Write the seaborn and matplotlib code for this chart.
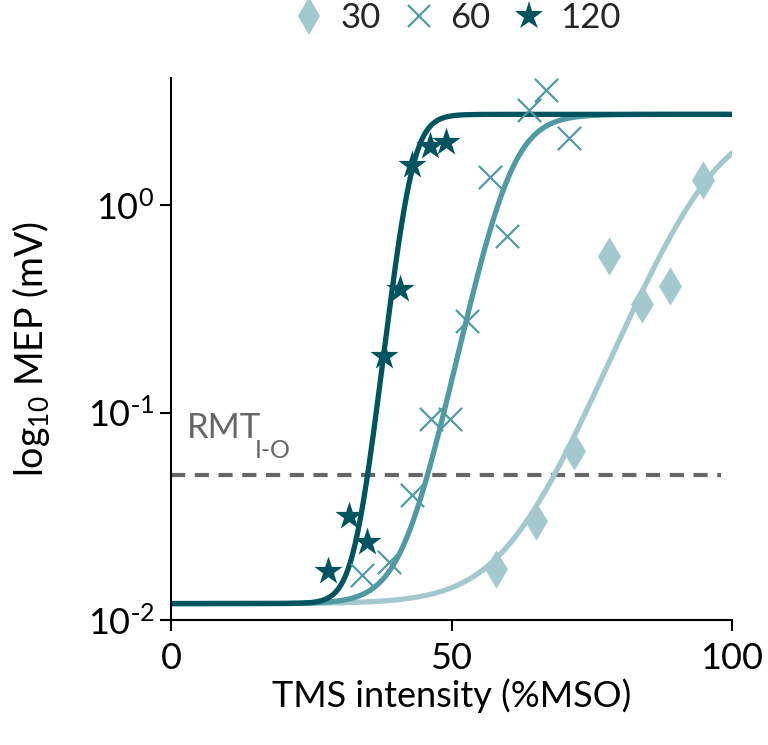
import numpy as np
import pandas as pd
import seaborn as sns
import matplotlib.pyplot as plt
from matplotlib.lines import Line2D

# MEP amplitudes (mV) per pulse duration
x_30 = [58.0, 65.0, 71.8, 78.0, 83.9, 89.0, 94.8]
y_30 = [0.0176, 0.030, 0.0655, 0.567, 0.332, 0.408, 1.32]
x_60 = [34.0, 38.8, 43.0, 46.3, 49.8, 52.7, 56.9, 59.9, 63.8, 66.8, 70.9]
y_60 = [0.0165, 0.019, 0.040, 0.0936, 0.0936, 0.276, 1.37, 0.711, 2.88, 3.61, 2.11]
x_120 = [27.9, 31.8, 35.0, 37.9, 40.8, 42.9, 46.1, 49.0]
y_120 = [0.0172, 0.0316, 0.0239, 0.187, 0.395, 1.57, 1.93, 2.01]

labels = ['30', '60', '120']
colors = ['#A3C9CE', '#4F9AA3', '#005460']

# Boltzmann fit per duration: baseline, plateau, midpoint, slope
fit_base = [0.012, 0.012, 0.012]
fit_top = [2.74, 2.74, 2.74]
fit_mid = [96.0, 60.2, 42.7]
fit_slope = [6.5, 3.4, 1.8]

rmt = 0.05


def boltzmann(x, base, top, mid, slope):
    return base + (top - base) / (1 + np.exp((mid - x) / slope))


def plot():
    sns.set_theme(style='ticks')
    plt.rcParams['font.family'] = ['Lato', 'DejaVu Sans']
    plt.rcParams['mathtext.default'] = 'regular'

    fig = plt.figure(figsize=(7.68, 7.45), dpi=100)
    ax = fig.add_axes([171 / 768, 1 - 620 / 745, 561 / 768, 542 / 745])

    # fitted curves
    xs = np.linspace(0, 100, 400)
    fits = pd.concat([
        pd.DataFrame({'x': xs,
                      'y': boltzmann(xs, fit_base[i], fit_top[i], fit_mid[i], fit_slope[i]),
                      'dur': labels[i]})
        for i in range(3)])
    sns.lineplot(data=fits, x='x', y='y', hue='dur', palette=dict(zip(labels, colors)),
                 linewidth=3.8, legend=False, ax=ax, zorder=2)

    # data points
    sns.scatterplot(x=x_30, y=y_30, marker='d', s=380, color=colors[0],
                    linewidth=0, ax=ax, zorder=3)
    sns.scatterplot(x=x_60, y=y_60, marker='x', s=280, color=colors[1],
                    linewidth=1.6, ax=ax, zorder=3)
    sns.scatterplot(x=x_120, y=y_120, marker='*', s=460, color=colors[2],
                    linewidth=0, ax=ax, zorder=4)

    # threshold line
    ax.plot([0, 98], [rmt, rmt], ls=(0, (3.4, 2.3)), color='#666666', lw=3, zorder=1)
    ax.text(2.8, 0.075, 'RMT', fontsize=25, color='#666666')
    ax.text(15.0, 0.0605, 'I-O', fontsize=18, color='#666666')

    ax.set_yscale('log')
    ax.set_xlim(0, 100)
    ax.set_ylim(0.01, 10 ** 0.613)
    ax.set_xticks([0, 50, 100])
    ax.set_xticklabels(['0', '50', '100'])
    ax.set_yticks([0.01, 0.1, 1])
    ax.set_yticklabels([r'$10^{\text{-}2}$', r'$10^{\text{-}1}$', r'$10^{0}$'])
    ax.minorticks_off()
    ax.tick_params(axis='both', which='major', direction='out', length=8, width=1.5,
                   color='black', labelsize=26, labelcolor='black', pad=8)
    ax.tick_params(axis='y', pad=4)
    for side in ['left', 'bottom']:
        ax.spines[side].set_color('black')
        ax.spines[side].set_linewidth(1.5)
    sns.despine(ax=ax)

    ax.set_xlabel('TMS intensity (%MSO)', fontsize=26, color='black', labelpad=2)
    ax.set_ylabel(r'$log_{10}$ MEP (mV)', fontsize=27, color='black')
    ax.yaxis.set_label_coords(-0.212, 0.5)

    handles = [
        Line2D([], [], ls='', marker='d', ms=19, color=colors[0], mew=0),
        Line2D([], [], ls='', marker='x', ms=16, color=colors[1], mew=1.6),
        Line2D([], [], ls='', marker='*', ms=21, color=colors[2], mew=0),
    ]
    fig.legend(handles, labels, loc='center', bbox_to_anchor=(456 / 768, 1 - 18 / 745),
               ncol=3, frameon=False, fontsize=25, handletextpad=0.4, columnspacing=0.6,
               handlelength=1.0)

    fig.savefig('out.png', dpi=100)


if __name__ == '__main__':
    plot()
